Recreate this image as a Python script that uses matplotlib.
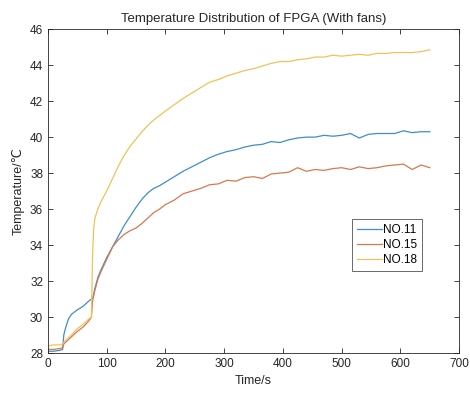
import numpy as np
import matplotlib
matplotlib.use("Agg")
import matplotlib.pyplot as plt

plt.rcParams['font.family'] = ['Liberation Sans', 'DejaVu Sans']

# time axis (s)
time = [0, 10, 20, 25, 27, 30, 35, 40, 50, 60, 70, 74, 76, 78, 80, 85, 90,
        100, 110, 120, 130, 140, 150, 160, 170, 180, 190, 200, 215, 230, 245,
        260, 275, 290, 305, 320, 335, 350, 365, 380, 395, 410, 425, 440, 455,
        470, 485, 500, 515, 530, 545, 560, 575, 590, 605, 620, 635, 650]

no11 = [28.1, 28.1, 28.15, 28.2, 29.0, 29.4, 29.9, 30.15, 30.4, 30.6, 30.9,
        31.0, 31.05, 31.3, 31.6, 32.2, 32.6, 33.3, 33.9, 34.5, 35.1, 35.6,
        36.1, 36.55, 36.9, 37.15, 37.3, 37.5, 37.8, 38.1, 38.35, 38.6, 38.85,
        39.05, 39.2, 39.3, 39.45, 39.55, 39.6, 39.75, 39.7, 39.85, 39.95, 40.0,
        40.0, 40.1, 40.05, 40.1, 40.2, 39.95, 40.15, 40.2, 40.2, 40.2, 40.35,
        40.25, 40.3, 40.3]

no15 = [28.2, 28.2, 28.25, 28.3, 28.5, 28.6, 28.75, 28.9, 29.2, 29.45, 29.8,
        30.0, 30.9, 31.2, 31.5, 32.1, 32.5, 33.2, 33.9, 34.3, 34.6, 34.8,
        34.95, 35.2, 35.5, 35.8, 36.0, 36.25, 36.5, 36.85, 37.0, 37.15, 37.35,
        37.4, 37.6, 37.55, 37.75, 37.8, 37.7, 37.95, 38.0, 38.05, 38.3, 38.1,
        38.2, 38.15, 38.25, 38.3, 38.2, 38.35, 38.25, 38.3, 38.4, 38.45, 38.5,
        38.2, 38.45, 38.3]

no18 = [28.4, 28.45, 28.45, 28.5, 28.6, 28.7, 28.85, 29.0, 29.35, 29.6, 29.9,
        30.0, 33.5, 35.0, 35.5, 36.0, 36.4, 37.0, 37.7, 38.4, 39.0, 39.5,
        39.9, 40.3, 40.65, 40.95, 41.2, 41.45, 41.8, 42.15, 42.45, 42.75, 43.05,
        43.2, 43.4, 43.55, 43.7, 43.8, 43.95, 44.1, 44.2, 44.2, 44.3, 44.35,
        44.45, 44.45, 44.55, 44.5, 44.55, 44.6, 44.55, 44.65, 44.65, 44.7, 44.7,
        44.7, 44.75, 44.85]

labels = ['NO.11', 'NO.15', 'NO.18']
colors = ['#3d8fc4', '#d9774f', '#eec25a']

fig = plt.figure(figsize=(4.7, 3.94), dpi=100)
ax = fig.add_axes([0.102, 0.104, 0.875, 0.822])

for y, lab, c in zip([no11, no15, no18], labels, colors):
    ax.plot(time, y, color=c, lw=0.9, label=lab)

ax.set_xlim(0, 700)
ax.set_ylim(28, 46)
ax.set_xticks(np.arange(0, 701, 100))
ax.set_yticks(np.arange(28, 47, 2))
ax.tick_params(direction='in', top=True, right=True, labelsize=8.5,
               colors='#262626', length=3.5, width=0.6)
for s in ax.spines.values():
    s.set_color('#262626')
    s.set_linewidth(0.6)

ax.set_title('Temperature Distribution of FPGA (With fans)', fontsize=9.5,
             color='#262626', pad=5)
ax.set_xlabel('Time/s', fontsize=9, color='#262626')
ax.set_ylabel('Temperature/℃', fontsize=9, color='#262626',
              family=['Liberation Sans', 'DejaVu Sans', 'Noto Sans CJK SC'])

leg = ax.legend(loc='lower left', bbox_to_anchor=(0.74, 0.253), fontsize=8.5,
                frameon=True, fancybox=False, handlelength=2.1,
                borderpad=0.4, labelspacing=0.28, handletextpad=0.1,
                borderaxespad=0)
leg.get_frame().set_edgecolor('#262626')
leg.get_frame().set_linewidth(0.6)

fig.savefig('out.png', dpi=100)
